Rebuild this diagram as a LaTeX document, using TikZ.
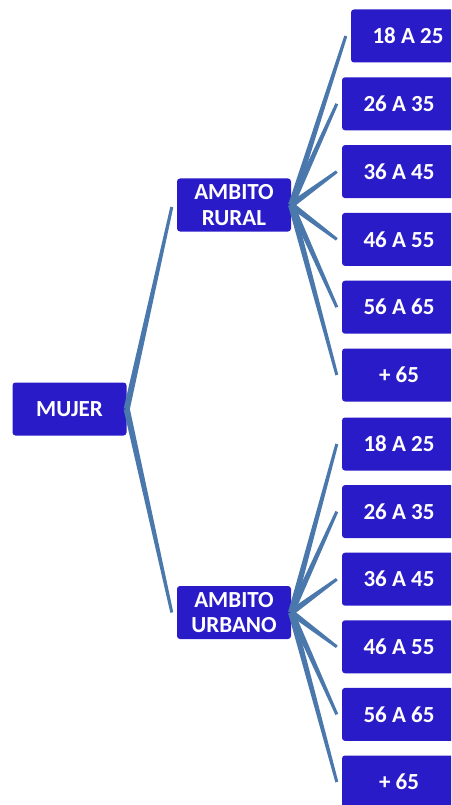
\documentclass[tikz,border=0pt]{standalone}
\usepackage{fontspec}
\setmainfont{Carlito}
\usetikzlibrary{calc}
\definecolor{boxblue}{HTML}{2A1BC8}
\definecolor{linkblue}{HTML}{4A78AC}
\tikzset{
  box/.style={fill=boxblue, rounded corners=3pt, minimum width=114pt, minimum height=53pt,
    inner sep=0pt, text=white, align=center,
    font=\fontsize{23}{25.5}\selectfont\bfseries},
}
\newcommand\conn[2]{\fill[linkblue] ($(#1)!3.1pt!90:(#2)$) -- ($(#2)!1.5pt!-90:(#1)$) -- ($(#2)!1.5pt!90:(#1)$) -- ($(#1)!3.1pt!-90:(#2)$) -- cycle;}
\begin{document}
\begin{tikzpicture}[x=1pt,y=-1pt]
\useasboundingbox (0,0) rectangle (451,805);
\fill[white] (0,0) rectangle (451,805);
\clip (0,0) rectangle (451,805);
\coordinate (mujerc) at (69.5,409);
\coordinate (ruralc) at (234,205);
\coordinate (urbanoc) at (234,612.5);
\node[box] (mujer) at (mujerc) {MUJER};
\node[box] (rural) at (ruralc) {AMBITO\\RURAL};
\node[box] (urbano) at (urbanoc) {AMBITO\\URBANO};
\node[box] (r0) at (408,36) {18 A 25};
\node[box] (r1) at (399,103.8) {26 A 35};
\node[box] (r2) at (399,171.6) {36 A 45};
\node[box] (r3) at (399,239.4) {46 A 55};
\node[box] (r4) at (399,307.2) {56 A 65};
\node[box] (r5) at (399,375) {+ 65};
\node[box] (u0) at (399,444) {18 A 25};
\node[box] (u1) at (399,511.6) {26 A 35};
\node[box] (u2) at (399,579.2) {36 A 45};
\node[box] (u3) at (399,646.8) {46 A 55};
\node[box] (u4) at (399,714.4) {56 A 65};
\node[box] (u5) at (399,782) {+ 65};
\coordinate (ruralin) at ($(rural.west)+(-5,2)$);
\coordinate (urbanoin) at ($(urbano.west)+(-5,0)$);
\conn{mujer.east}{ruralin}
\conn{mujer.east}{urbanoin}
\foreach \i in {0,...,5}{
  \coordinate (r\i in) at ($(r\i.west)+(-5,0)$);
  \coordinate (u\i in) at ($(u\i.west)+(-5,0)$);
  \conn{rural.east}{r\i in}
  \conn{urbano.east}{u\i in}
}
\end{tikzpicture}
\end{document}
